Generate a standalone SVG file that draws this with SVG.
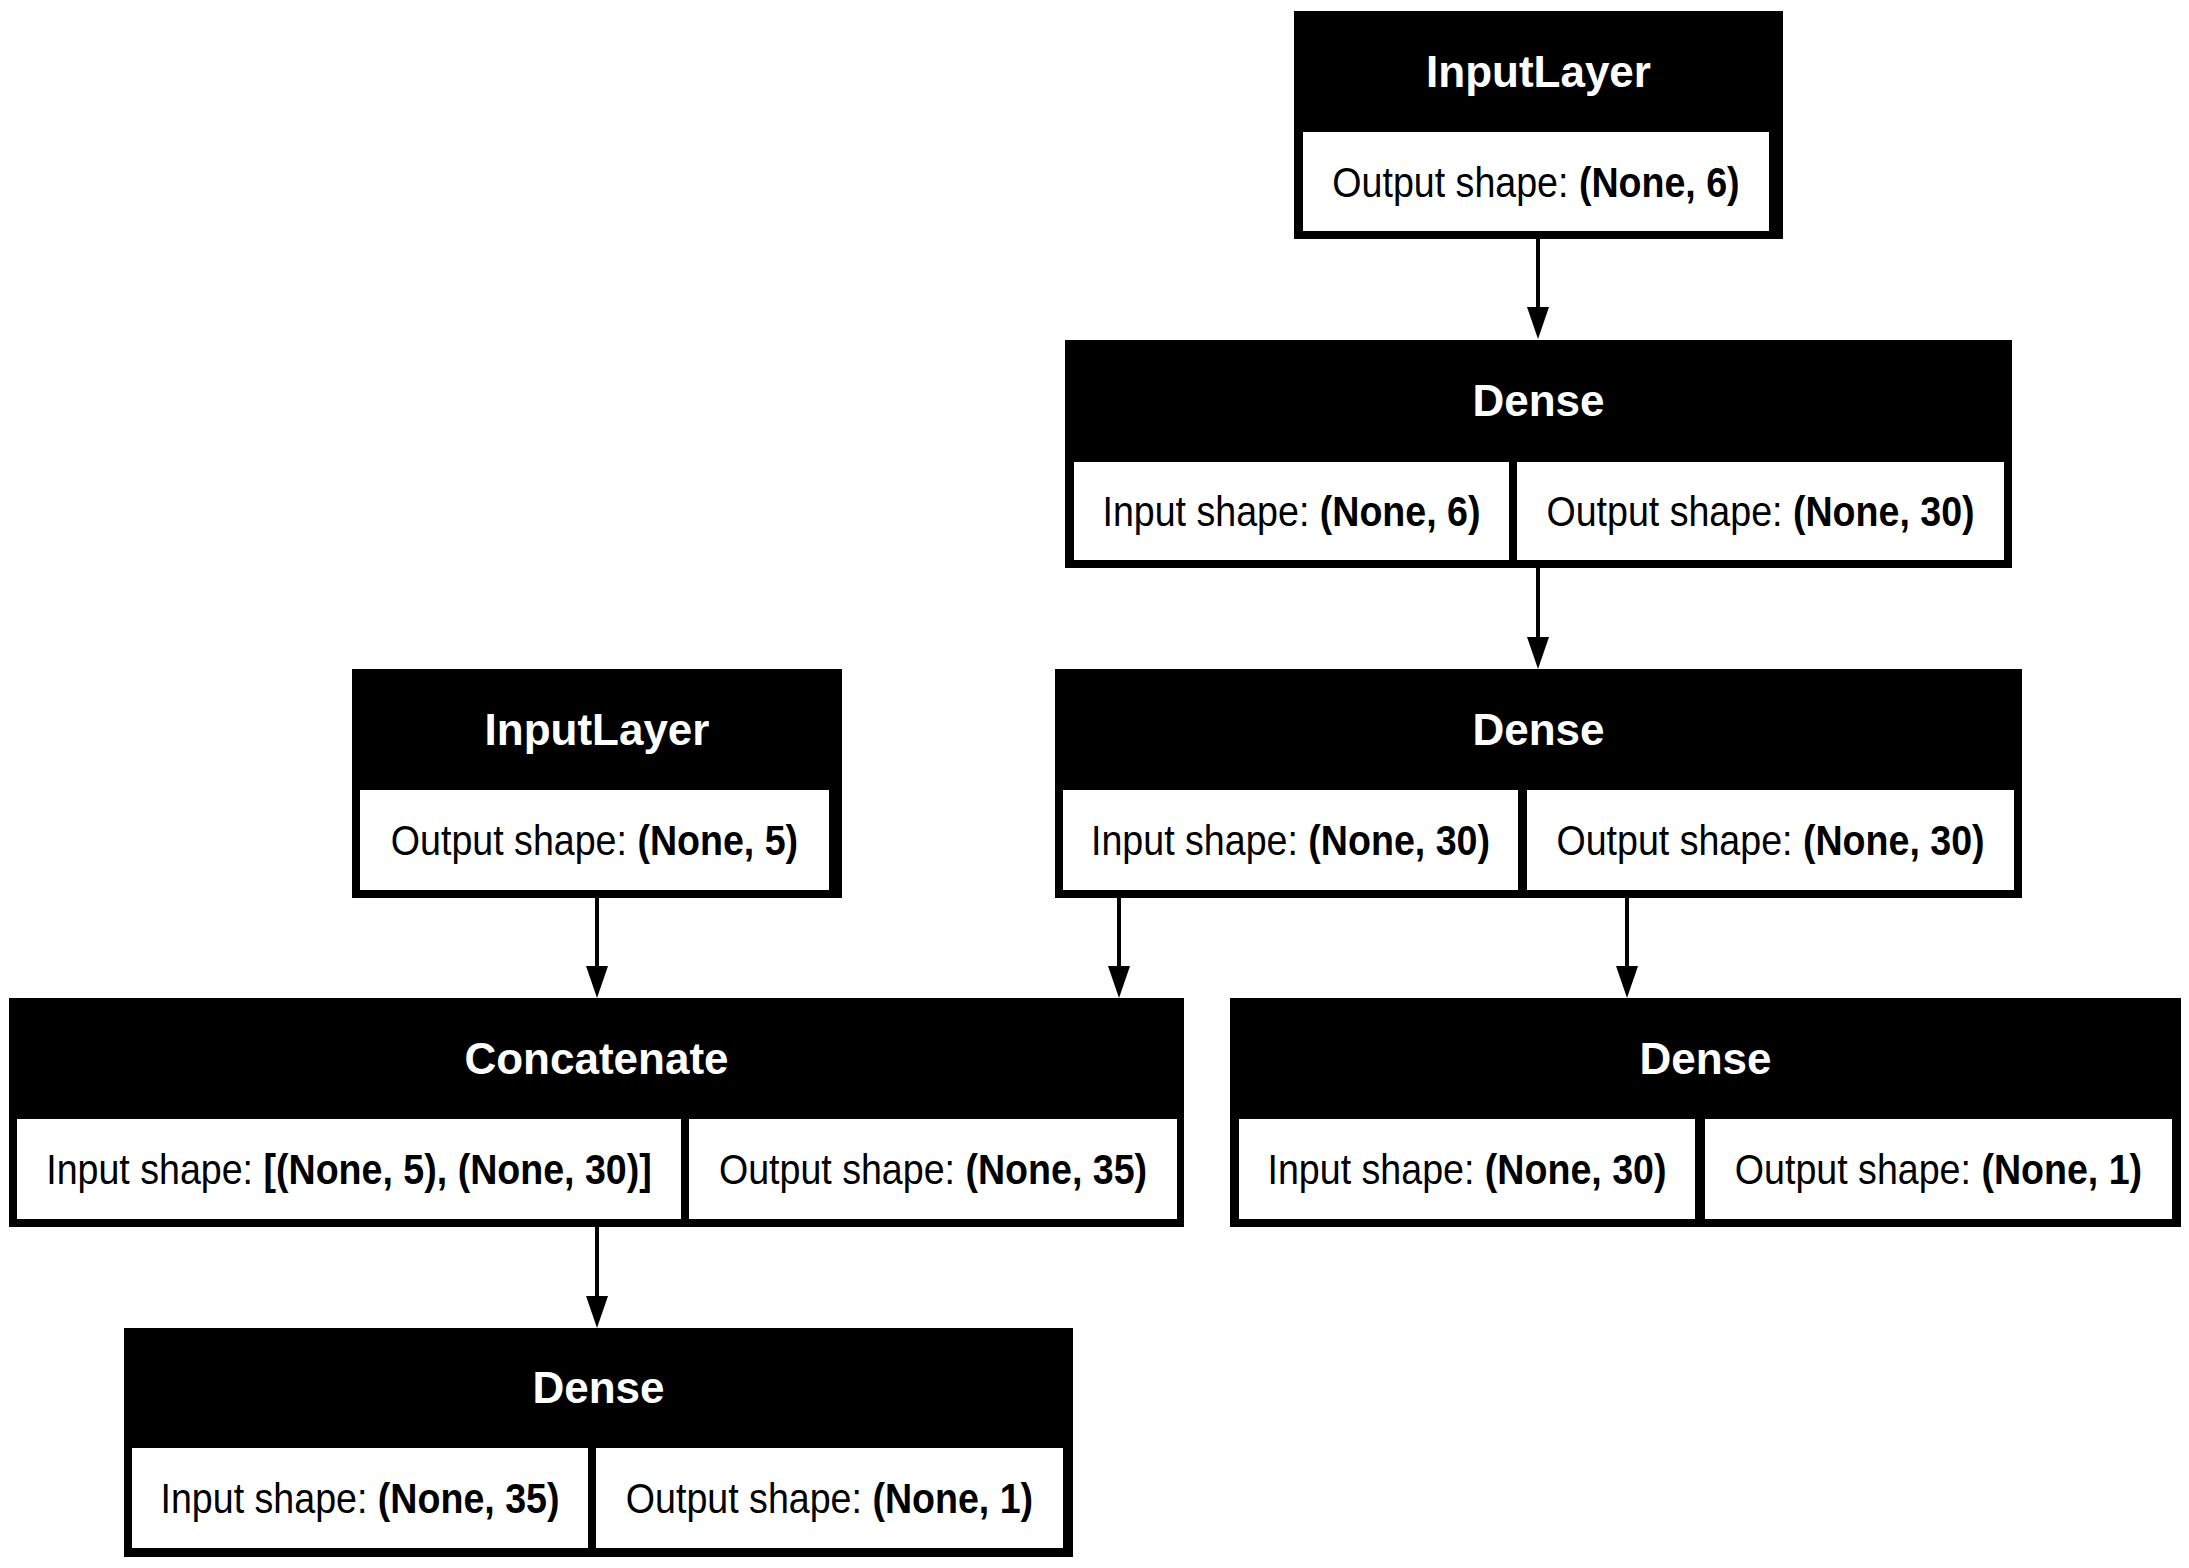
<svg xmlns="http://www.w3.org/2000/svg" width="2189" height="1568" viewBox="0 0 2189 1568">
<style>
.outer{fill:#000}
.cell{fill:#fff}
.title{font-family:"Liberation Sans",Arial,Helvetica,sans-serif;font-size:44px;font-weight:bold;fill:#fff;text-anchor:middle}
.body{font-family:"Liberation Sans",Arial,Helvetica,sans-serif;font-size:42px;fill:#000;text-anchor:middle}
.b{font-weight:bold}
.edge{stroke:#000;stroke-width:4;fill:none}
</style>
<rect width="2189" height="1568" fill="#fff"/>
<g id="connectors">
<line class="edge" x1="1538" y1="239" x2="1538" y2="308"/>
<path d="M1527,307 L1549,307 L1538,339 Z"/>
<line class="edge" x1="1538" y1="568" x2="1538" y2="638"/>
<path d="M1527,637 L1549,637 L1538,669 Z"/>
<line class="edge" x1="597" y1="898" x2="597" y2="967"/>
<path d="M586,966 L608,966 L597,998 Z"/>
<line class="edge" x1="1119" y1="898" x2="1119" y2="967"/>
<path d="M1108,966 L1130,966 L1119,998 Z"/>
<line class="edge" x1="1627" y1="898" x2="1627" y2="967"/>
<path d="M1616,966 L1638,966 L1627,998 Z"/>
<line class="edge" x1="597" y1="1227" x2="597" y2="1297"/>
<path d="M586,1296 L608,1296 L597,1328 Z"/>
</g>
<g id="node-input1">
<rect class="outer" x="1294" y="11" width="489" height="228"/>
<rect class="cell" x="1303" y="132" width="466" height="99"/>
<text class="title" x="1538.5" y="87">InputLayer</text>
<text class="body" transform="translate(1536,197) scale(0.895,1)">Output shape: <tspan class="b">(None, 6)</tspan></text>
</g>
<g id="node-dense1">
<rect class="outer" x="1065" y="340" width="947" height="228"/>
<rect class="cell" x="1074" y="462" width="435" height="98"/>
<rect class="cell" x="1517" y="462" width="487" height="98"/>
<text class="title" x="1538.5" y="416">Dense</text>
<text class="body" transform="translate(1291.5,526) scale(0.895,1)">Input shape: <tspan class="b">(None, 6)</tspan></text>
<text class="body" transform="translate(1760.5,526) scale(0.895,1)">Output shape: <tspan class="b">(None, 30)</tspan></text>
</g>
<g id="node-dense2">
<rect class="outer" x="1055" y="669" width="967" height="229"/>
<rect class="cell" x="1063" y="790" width="455" height="100"/>
<rect class="cell" x="1527" y="790" width="487" height="100"/>
<text class="title" x="1538.5" y="745">Dense</text>
<text class="body" transform="translate(1290.5,855) scale(0.895,1)">Input shape: <tspan class="b">(None, 30)</tspan></text>
<text class="body" transform="translate(1770.5,855) scale(0.895,1)">Output shape: <tspan class="b">(None, 30)</tspan></text>
</g>
<g id="node-input2">
<rect class="outer" x="352" y="669" width="490" height="229"/>
<rect class="cell" x="360" y="790" width="469" height="100"/>
<text class="title" x="597" y="745">InputLayer</text>
<text class="body" transform="translate(594.5,855) scale(0.895,1)">Output shape: <tspan class="b">(None, 5)</tspan></text>
</g>
<g id="node-concat">
<rect class="outer" x="9" y="998" width="1175" height="229"/>
<rect class="cell" x="17" y="1119" width="664" height="100"/>
<rect class="cell" x="689" y="1119" width="488" height="100"/>
<text class="title" x="596.5" y="1074">Concatenate</text>
<text class="body" transform="translate(349,1184) scale(0.895,1)">Input shape: <tspan class="b">[(None, 5), (None, 30)]</tspan></text>
<text class="body" transform="translate(933,1184) scale(0.895,1)">Output shape: <tspan class="b">(None, 35)</tspan></text>
</g>
<g id="node-dense3">
<rect class="outer" x="1230" y="998" width="951" height="229"/>
<rect class="cell" x="1239" y="1119" width="456" height="100"/>
<rect class="cell" x="1705" y="1119" width="467" height="100"/>
<text class="title" x="1705.5" y="1074">Dense</text>
<text class="body" transform="translate(1467,1184) scale(0.895,1)">Input shape: <tspan class="b">(None, 30)</tspan></text>
<text class="body" transform="translate(1938.5,1184) scale(0.895,1)">Output shape: <tspan class="b">(None, 1)</tspan></text>
</g>
<g id="node-dense4">
<rect class="outer" x="124" y="1328" width="949" height="229"/>
<rect class="cell" x="132" y="1448" width="456" height="100"/>
<rect class="cell" x="596" y="1448" width="467" height="100"/>
<text class="title" x="598.5" y="1403">Dense</text>
<text class="body" transform="translate(360,1513) scale(0.895,1)">Input shape: <tspan class="b">(None, 35)</tspan></text>
<text class="body" transform="translate(829.5,1513) scale(0.895,1)">Output shape: <tspan class="b">(None, 1)</tspan></text>
</g>
</svg>
